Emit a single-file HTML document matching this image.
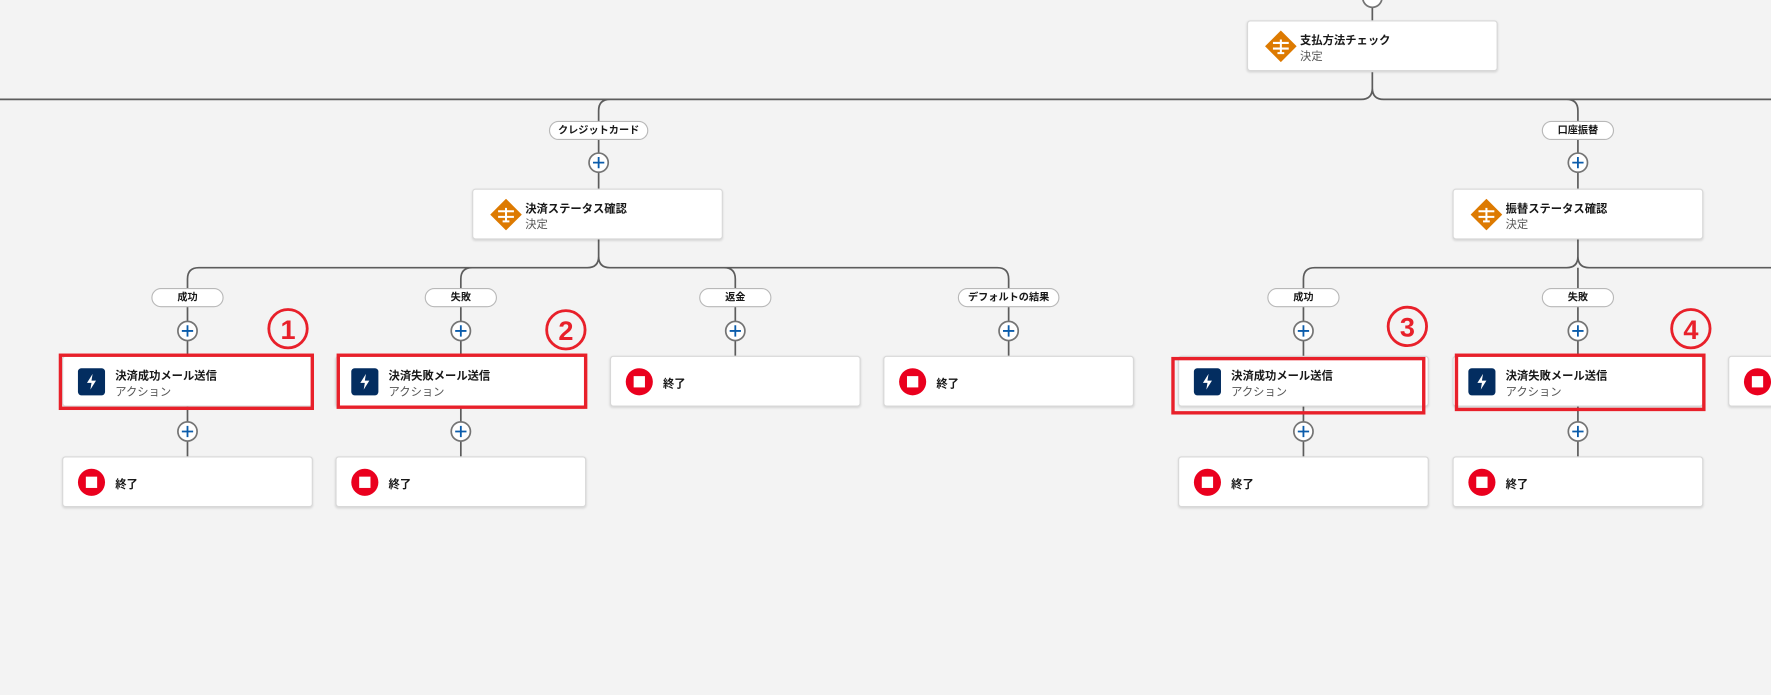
<!DOCTYPE html>
<html><head><meta charset="utf-8"><style>
html,body{margin:0;padding:0;background:#f3f3f3;overflow:hidden;width:1771px;height:694px}
#w{position:absolute;left:0;top:0;width:1568px;height:615px;transform:scale(1.1295);transform-origin:0 0;font-family:"Liberation Sans","Noto Sans CJK JP",sans-serif}
.n{position:absolute;width:222px;height:45px;background:#fff;border:1px solid #d8d8d8;border-radius:3px;box-shadow:0 1px 2px rgba(0,0,0,.12);box-sizing:border-box}
.t{position:absolute;left:46px;top:8px;font-size:10px;font-weight:bold;color:#181818}
.s{position:absolute;left:46px;top:22px;font-size:10px;color:#555}
.te{position:absolute;left:46px;top:15px;font-size:10px;font-weight:bold;color:#181818}
.d{position:absolute;left:15px;top:8px;width:28px;height:28px}
.a{position:absolute;left:13px;top:10px;width:24px;height:24px;background:#032d60;border-radius:3px}
.e{position:absolute;left:13px;top:10px;width:24px;height:24px;background:#ea001e;border-radius:50%}
.e:after{content:"";position:absolute;left:7px;top:7px;width:10px;height:10px;background:#fff}
.p{position:absolute;height:17px;background:#fff;border:1px solid #b8b8b8;border-radius:9px;box-sizing:border-box;font-size:9px;font-weight:bold;text-align:center;line-height:15px;color:#181818}
.r{position:absolute;border:3px solid #e8202a;box-sizing:border-box}
</style></head><body><div id="w">
<svg width="1600" height="615" style="position:absolute;left:0;top:0" fill="none">
<g stroke="#5c5c5c" stroke-width="1.5">
<path d="M1215 0V18M1215 64V78Q1215 88 1205 88H0M540 88Q530 88 530 98V167M1215 78Q1215 88 1225 88H1600M1387 88Q1397 88 1397 98V167"/>
<path d="M530 212V227Q530 237 520 237H176Q166 237 166 247V404M530 227Q530 237 540 237H883Q893 237 893 247V315M641 237Q651 237 651 247V315M418 237Q408 237 408 247V404"/>
<path d="M1397 212V227Q1397 237 1387 237H1164Q1154 237 1154 247V404M1397 227Q1397 237 1407 237H1600M1397 237V404"/>
</g>
</svg>
<svg width="1600" height="615" style="position:absolute;left:0;top:0" fill="none">
<g stroke="#747474" stroke-width="1.5" fill="#fff">
<circle cx="1215" cy="-2" r="8.5"/><circle cx="530" cy="144" r="8.5"/><circle cx="1397" cy="144" r="8.5"/>
<circle cx="166" cy="293" r="8.5"/><circle cx="408" cy="293" r="8.5"/><circle cx="651" cy="293" r="8.5"/><circle cx="893" cy="293" r="8.5"/><circle cx="1154" cy="293" r="8.5"/><circle cx="1397" cy="293" r="8.5"/>
<circle cx="166" cy="382" r="8.5"/><circle cx="408" cy="382" r="8.5"/><circle cx="1154" cy="382" r="8.5"/><circle cx="1397" cy="382" r="8.5"/>
</g>
<g stroke="#0b5cab" stroke-width="1.6">
<path d="M1210 -2h10M525 144h10M530 139v10M1392 144h10M1397 139v10M161 293h10M166 288v10M403 293h10M408 288v10M646 293h10M651 288v10M888 293h10M893 288v10M1149 293h10M1154 288v10M1392 293h10M1397 288v10M161 382h10M166 377v10M403 382h10M408 377v10M1149 382h10M1154 377v10M1392 382h10M1397 377v10"/>
</g>
</svg>

<div class="n" style="left:1104px;top:18px"><svg class="d" viewBox="0 0 28 28"><path d="M14 0L28 14L14 28L0 14Z" fill="#dd7a01"/><path d="M7 11h14M7 16h14M14 8v12M11 20h6" stroke="#fff" stroke-width="1.8"/></svg><div class="t">支払方法チェック</div><div class="s">決定</div></div>
<div class="p" style="left:486px;top:107px;width:88px">クレジットカード</div>
<div class="p" style="left:1365px;top:107px;width:64px">口座振替</div>
<div class="n" style="left:418px;top:167px"><svg class="d" viewBox="0 0 28 28"><path d="M14 0L28 14L14 28L0 14Z" fill="#dd7a01"/><path d="M7 11h14M7 16h14M14 8v12M11 20h6" stroke="#fff" stroke-width="1.8"/></svg><div class="t">決済ステータス確認</div><div class="s">決定</div></div>
<div class="n" style="left:1286px;top:167px"><svg class="d" viewBox="0 0 28 28"><path d="M14 0L28 14L14 28L0 14Z" fill="#dd7a01"/><path d="M7 11h14M7 16h14M14 8v12M11 20h6" stroke="#fff" stroke-width="1.8"/></svg><div class="t">振替ステータス確認</div><div class="s">決定</div></div>

<div class="p" style="left:134px;top:255px;width:64px">成功</div>
<div class="p" style="left:376px;top:255px;width:64px">失敗</div>
<div class="p" style="left:619px;top:255px;width:64px">返金</div>
<div class="p" style="left:848px;top:255px;width:90px">デフォルトの結果</div>
<div class="p" style="left:1122px;top:255px;width:64px">成功</div>
<div class="p" style="left:1365px;top:255px;width:64px">失敗</div>

<div class="n" style="left:55px;top:315px"><div class="a"><svg width="24" height="24"><path d="M13 5L8 13h4l-1 6 5-8h-4z" fill="#fff"/></svg></div><div class="t">決済成功メール送信</div><div class="s">アクション</div></div>
<div class="n" style="left:297px;top:315px"><div class="a"><svg width="24" height="24"><path d="M13 5L8 13h4l-1 6 5-8h-4z" fill="#fff"/></svg></div><div class="t">決済失敗メール送信</div><div class="s">アクション</div></div>
<div class="n" style="left:540px;top:315px"><div class="e"></div><div class="te">終了</div></div>
<div class="n" style="left:782px;top:315px"><div class="e"></div><div class="te">終了</div></div>
<div class="n" style="left:1043px;top:315px"><div class="a"><svg width="24" height="24"><path d="M13 5L8 13h4l-1 6 5-8h-4z" fill="#fff"/></svg></div><div class="t">決済成功メール送信</div><div class="s">アクション</div></div>
<div class="n" style="left:1286px;top:315px"><div class="a"><svg width="24" height="24"><path d="M13 5L8 13h4l-1 6 5-8h-4z" fill="#fff"/></svg></div><div class="t">決済失敗メール送信</div><div class="s">アクション</div></div>
<div class="n" style="left:1530px;top:315px"><div class="e"></div><div class="te">終了</div></div>

<div class="n" style="left:55px;top:404px"><div class="e"></div><div class="te">終了</div></div>
<div class="n" style="left:297px;top:404px"><div class="e"></div><div class="te">終了</div></div>
<div class="n" style="left:1043px;top:404px"><div class="e"></div><div class="te">終了</div></div>
<div class="n" style="left:1286px;top:404px"><div class="e"></div><div class="te">終了</div></div>

<div class="r" style="left:52px;top:313px;width:226px;height:50px"></div>
<div class="r" style="left:298px;top:313px;width:222px;height:49px"></div>
<div class="r" style="left:1037px;top:316px;width:225px;height:51px"></div>
<div class="r" style="left:1288px;top:313px;width:222px;height:51px"></div>

<svg width="1600" height="615" style="position:absolute;left:0;top:0">
<g fill="none" stroke="#e8202a" stroke-width="2.5"><circle cx="255" cy="291" r="17"/><circle cx="501" cy="292" r="17"/><circle cx="1246" cy="289" r="17"/><circle cx="1497" cy="291" r="17"/></g>
<g fill="#e8202a" font-family="Liberation Sans, sans-serif" font-weight="bold" font-size="24" text-anchor="middle"><text x="255" y="300">1</text><text x="501" y="301">2</text><text x="1246" y="298">3</text><text x="1497" y="300">4</text></g>
</svg>
</div></body></html>
